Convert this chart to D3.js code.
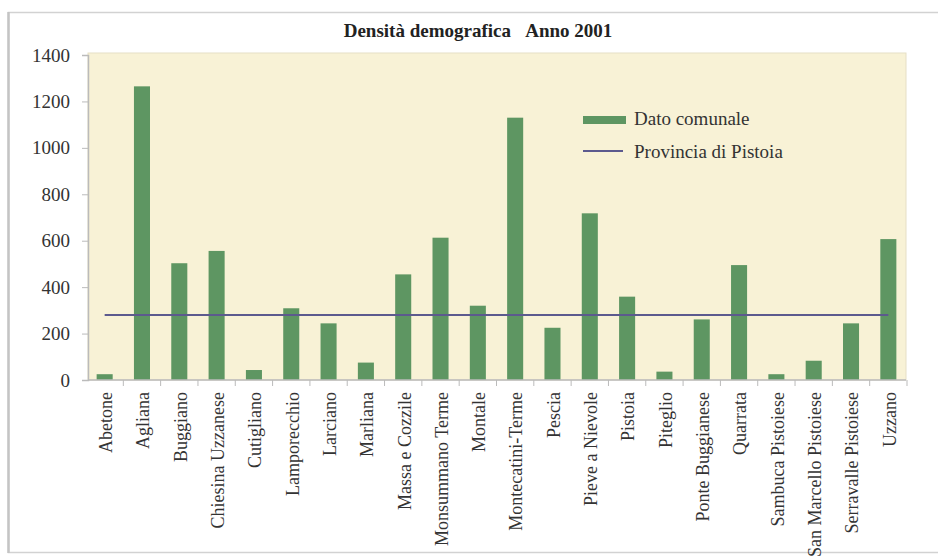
<!DOCTYPE html>
<html>
<head>
<meta charset="utf-8">
<script src="https://cdn.jsdelivr.net/npm/d3@7"></script>
<style>
  html, body { margin: 0; padding: 0; background: #ffffff; }
  svg { display: block; }
  text { font-family: "Liberation Serif", "Times New Roman", serif; fill: #333; }
</style>
</head>
<body>
<svg id="chart" width="938" height="557"></svg>
<script>
// Comuni della provincia di Pistoia
const comuni = [
  "Abetone", "Agliana", "Buggiano", "Chiesina Uzzanese", "Cutigliano",
  "Lamporecchio", "Larciano", "Marliana", "Massa e Cozzile", "Monsummano Terme",
  "Montale", "Montecatini-Terme", "Pescia", "Pieve a Nievole", "Pistoia",
  "Piteglio", "Ponte Buggianese", "Quarrata", "Sambuca Pistoiese",
  "San Marcello Pistoiese", "Serravalle Pistoiese", "Uzzano"
];

// Densità (ab./km²) per comune
const densita = [
  25, 1265, 503, 556, 43,
  309, 244, 75, 455, 613,
  320, 1130, 225, 718, 359,
  36, 261, 495, 25,
  83, 244, 607
];

// Densità media provinciale
const densitaProvincia = 280;

const yTicks = [0, 200, 400, 600, 800, 1000, 1200, 1400];
const titolo = "Densità demografica\u00a0\u00a0\u00a0Anno 2001";
const legendaVoci = ["Dato comunale", "Provincia di Pistoia"];

const svg = d3.select("#chart");
const W = 938, H = 557;
const plot = { left: 88, right: 906, top: 53, bottom: 380 };

const barColor = "#5e9662";
const lineColor = "#5c5a8e";
const fontSize = "19px";
const labelSize = "18px";

// Outer frame
svg.append("rect")
  .attr("x", 8.5).attr("y", 12.5)
  .attr("width", W + 10).attr("height", 540)
  .attr("fill", "#ffffff")
  .attr("stroke", "#d2d2d2").attr("stroke-width", 1.5);
svg.append("line")
  .attr("x1", 8.5).attr("x2", 8.5).attr("y1", 12).attr("y2", 553)
  .attr("stroke", "#c4c4c4").attr("stroke-width", 2.5);

// Title
svg.append("text")
  .attr("x", 478).attr("y", 37)
  .attr("text-anchor", "middle")
  .style("font-weight", "bold")
  .style("font-size", fontSize)
  .style("fill", "#222")
  .text(titolo);

// Plot background
svg.append("rect")
  .attr("x", plot.left).attr("y", plot.top)
  .attr("width", plot.right - plot.left).attr("height", plot.bottom - plot.top)
  .attr("fill", "#f8f2d6")
  .attr("stroke", "#e6dfc6").attr("stroke-width", 1);

// Scales
const x = d3.scaleBand()
  .domain(comuni)
  .range([86, 907])
  .paddingInner(0.57)
  .paddingOuter(0.285);

const y = d3.scaleLinear()
  .domain([0, 1400])
  .range([plot.bottom, 55]);

// Bars
svg.append("g")
  .selectAll("rect")
  .data(comuni.map((c, i) => ({ c, v: densita[i] })))
  .join("rect")
  .attr("x", d => x(d.c))
  .attr("y", d => y(d.v))
  .attr("width", x.bandwidth())
  .attr("height", d => y(0) - y(d.v))
  .attr("fill", barColor);

// Provincial average line, from first to last category centre
const centre = c => x(c) + x.bandwidth() / 2;
svg.append("line")
  .attr("x1", centre(comuni[0]))
  .attr("x2", centre(comuni[comuni.length - 1]))
  .attr("y1", y(densitaProvincia))
  .attr("y2", y(densitaProvincia))
  .attr("stroke", lineColor)
  .attr("stroke-width", 2);

// Y axis
const yAxis = svg.append("g")
  .attr("transform", `translate(${plot.left},0)`)
  .call(d3.axisLeft(y).tickValues(yTicks).tickSize(6).tickPadding(12).tickFormat(d3.format("d")));
yAxis.select(".domain").attr("stroke", "#bbb").attr("stroke-width", 1.5);
yAxis.selectAll(".tick line").attr("stroke", "#bbb");
yAxis.selectAll(".tick text")
  .style("font-size", fontSize)
  .style("font-family", "'Liberation Serif', 'Times New Roman', serif")
  .attr("fill", "#333");

// X axis: ticks at category boundaries, labels rotated
const step = x.step();
const x0 = x.range()[0];
const boundaries = d3.range(comuni.length + 1).map(i => x0 + i * step);
const xAxis = svg.append("g");
xAxis.append("line")
  .attr("x1", plot.left).attr("x2", plot.right)
  .attr("y1", plot.bottom).attr("y2", plot.bottom)
  .attr("stroke", "#bbb").attr("stroke-width", 1.5);
xAxis.selectAll("line.tick")
  .data(boundaries.slice(1))
  .join("line")
  .attr("class", "tick")
  .attr("x1", d => d).attr("x2", d => d)
  .attr("y1", plot.bottom).attr("y2", plot.bottom + 6)
  .attr("stroke", "#bbb");
xAxis.selectAll("text")
  .data(comuni)
  .join("text")
  .attr("transform", c => `translate(${centre(c) + 1},${plot.bottom + 12}) rotate(-90)`)
  .attr("text-anchor", "end")
  .attr("dy", "0.35em")
  .style("font-size", labelSize)
  .text(c => c);

// Legend
const lg = svg.append("g").attr("transform", "translate(583,0)");
lg.append("rect")
  .attr("x", 0).attr("y", 116).attr("width", 43).attr("height", 8)
  .attr("fill", barColor);
lg.append("text")
  .attr("x", 51).attr("y", 125)
  .style("font-size", fontSize)
  .text(legendaVoci[0]);
lg.append("line")
  .attr("x1", 0).attr("x2", 40).attr("y1", 151).attr("y2", 151)
  .attr("stroke", lineColor).attr("stroke-width", 2);
lg.append("text")
  .attr("x", 51).attr("y", 158)
  .style("font-size", fontSize)
  .text(legendaVoci[1]);
</script>
</body>
</html>
